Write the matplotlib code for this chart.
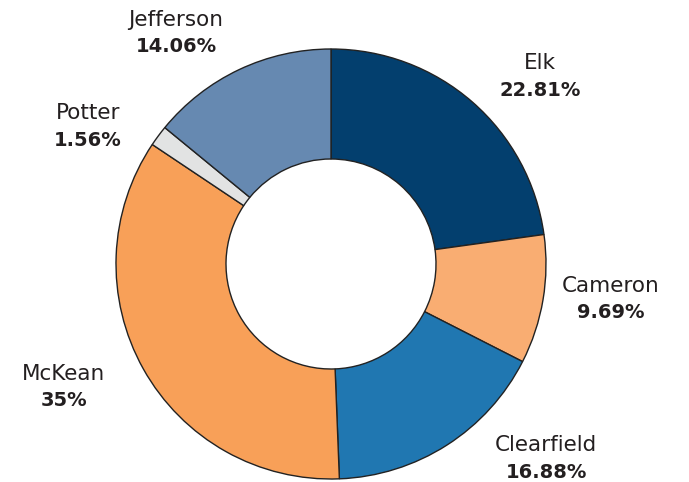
import matplotlib
matplotlib.use("Agg")
import matplotlib.pyplot as plt

categories = ["Elk", "Cameron", "Clearfield", "McKean", "Potter", "Jefferson"]
values = [22.81, 9.69, 16.88, 35, 1.56, 14.06]
pct_labels = ["22.81%", "9.69%", "16.88%", "35%", "1.56%", "14.06%"]
colors = ["#033f6e", "#f9ad72", "#2077b1", "#f8a058", "#e2e3e3", "#6689b1"]
# label positions in pixels (name line center, x center)
label_px = [(540, 63), (611, 286), (546, 445), (64, 374), (88, 113), (176, 20)]

W, H = 689, 482
cx, cy, R = 331, 264, 215
fig = plt.figure(figsize=(W / 100, H / 100), dpi=100)
ax = fig.add_axes([(cx - R) / W, (H - cy - R) / H, 2 * R / W, 2 * R / H])
ax.set_xlim(-1, 1)
ax.set_ylim(-1, 1)
ax.axis("off")

ax.pie(values, colors=colors, startangle=90, counterclock=False, radius=1,
       wedgeprops=dict(width=1 - 105 / 215, edgecolor="#222222", linewidth=1.0))
ax.set_xlim(-1, 1)
ax.set_ylim(-1, 1)

fam = ["DejaVu Sans"]
for name, pct, (px, py) in zip(categories, pct_labels, label_px):
    x = (px - cx) / R
    y = (cy - py) / R
    ax.text(x, y, name, ha="center", va="center", fontsize=15.5, color="#231f20",
            family=fam, clip_on=False)
    ax.text(x, y - 27 / R, pct, ha="center", va="center", fontsize=14,
            fontweight="bold", color="#231f20", family=fam, clip_on=False)

fig.savefig("out.png", dpi=100)
